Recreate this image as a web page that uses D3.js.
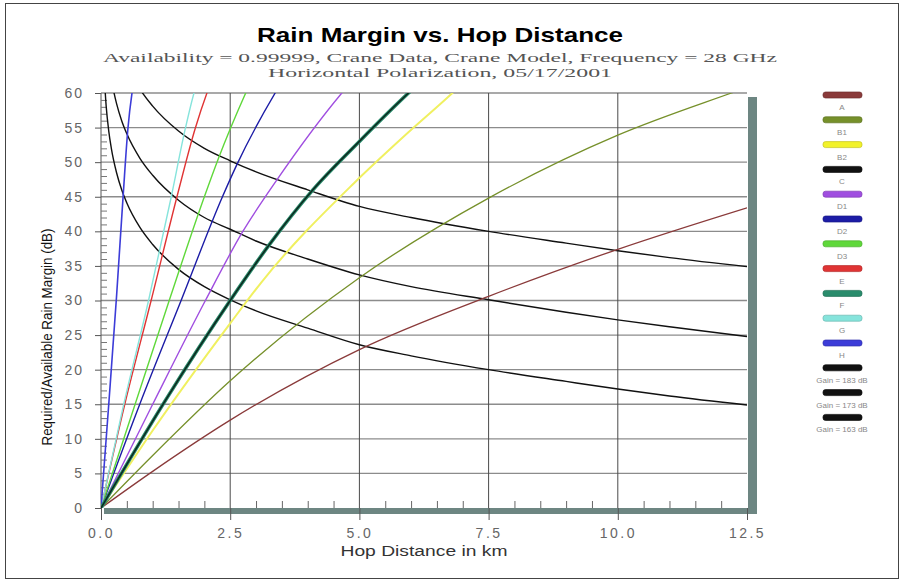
<!DOCTYPE html>
<html>
<head>
<meta charset="utf-8">
<script src="https://cdn.jsdelivr.net/npm/d3@7"></script>
<style>
  body { margin: 0; background: #fff; }
  text { font-family: 'Liberation Sans', Arial, sans-serif; }
</style>
</head>
<body>
<svg width="904" height="582"></svg>
<script>
// values: [hop distance (km), margin (dB)]
const curveA  = [[0,0],[1,5.3],[2.5,12.7],[5,22.9],[7.5,30.6],[10,37.4],[12.5,43.4]];
const curveB1 = [[0,0],[1,7.6],[2.5,18.4],[5,33.3],[7.5,44.8],[10,53.9],[12.2,60],[12.5,60.8]];
const curveB2 = [[0,0],[1,11.2],[2.5,26.7],[3.1,32.6],[4.9,47],[5.9,54],[6.8,60],[6.9,60.7]];
const curveC  = [[0,0],[1.25,15.6],[2.5,30],[3.25,38],[4.1,46],[5,53],[5.95,60],[6.05,60.7]];
const curveD1 = [[0,0],[1,15],[2.02,30],[2.73,39.8],[3.4,47.4],[4.66,60],[4.75,60.8]];
const curveD2 = [[0,0],[0.75,15],[1.55,30],[2.35,45],[2.62,49.5],[3.37,60],[3.45,61]];
const curveD3 = [[0,0],[0.66,15],[1.32,30],[2.0,45],[2.27,50.5],[2.8,60],[2.86,61]];
const curveE  = [[0,0],[0.46,15],[0.97,30],[1.47,45],[1.82,54.8],[2.05,60],[2.1,61]];
const curveF  = [[0,0],[1.25,15.6],[2.5,30],[3.25,38],[4.1,46],[5,53],[5.95,60],[6.05,60.7]];
const curveG  = [[0,0],[0.44,15],[0.92,30],[1.36,45],[1.63,54.8],[1.8,60],[1.84,61]];
const curveH  = [[0,0],[0.15,15],[0.3,30.5],[0.43,45.3],[0.52,54.8],[0.6,60],[0.62,61]];

const gainX   = [0.05,0.1,0.15,0.2,0.3,0.4,0.5,0.75,1,1.5,2,2.5,3,4,5,6,7.5,9,10,11,12.5];
const gain183 = [84.1,78.1,74.5,72.0,68.5,66.0,64.1,60.6,58.1,54.5,52.0,50.2,48.6,46.0,43.6,42.0,40.0,38.3,37.2,36.2,34.9];
const gain173 = [74.1,68.1,64.5,62.0,58.5,56.0,54.1,50.6,48.1,44.5,42.0,40.3,38.6,36.0,33.7,32.0,30.1,28.3,27.2,26.2,24.8];
const gain163 = [64.1,58.1,54.5,52.0,48.5,46.0,44.1,40.6,38.1,34.5,32.0,30.1,28.5,26.0,23.6,22.0,20.0,18.3,17.2,16.2,14.9];

const xTicks = [0, 2.5, 5, 7.5, 10, 12.5];
const xMinorTicks = [0.5,1,1.5,2,3,3.5,4,4.5,5.5,6,6.5,7,8,8.5,9,9.5,10.5,11,11.5,12];
const yTicks = [0, 5, 10, 15, 20, 25, 30, 35, 40, 45, 50, 55, 60];

const legendLabels = ['A','B1','B2','C','D1','D2','D3','E','F','G','H',
  'Gain = 183 dB','Gain = 173 dB','Gain = 163 dB'];
const legendColors = ['#8a3a3a','#76902a','#f2f22a','#111111','#a04ee0','#1c1ca6','#5fd83a',
  '#e03434','#2a8c6c','#86e4dc','#3c3cd8','#111111','#111111','#111111'];

const svg = d3.select('svg');

const plot = {left: 101, right: 747, top: 93, bottom: 508};

const xScale = d3.scaleLinear().domain([0, 12.5]).range([plot.left, plot.right]);
const yScale = d3.scaleLinear().domain([0, 60]).range([plot.bottom, plot.top]);

// outer frame
svg.append('rect')
  .attr('x', 5.5).attr('y', 3.5)
  .attr('width', 893).attr('height', 575)
  .attr('fill', 'none').attr('stroke', '#444');

// titles
svg.append('text')
  .attr('x', 440).attr('y', 42)
  .attr('text-anchor', 'middle')
  .attr('font-size', 21).attr('font-weight', 'bold')
  .attr('textLength', 366).attr('lengthAdjust', 'spacingAndGlyphs')
  .text('Rain Margin vs. Hop Distance');

const serif = "'Liberation Serif', 'Times New Roman', serif";

svg.append('text')
  .attr('x', 440).attr('y', 62)
  .attr('text-anchor', 'middle')
  .style('font-family', serif)
  .attr('font-size', 13.5).attr('fill', '#555')
  .attr('textLength', 674).attr('lengthAdjust', 'spacingAndGlyphs')
  .text('Availability = 0.99999,  Crane Data, Crane Model,  Frequency = 28 GHz');

svg.append('text')
  .attr('x', 440).attr('y', 77)
  .attr('text-anchor', 'middle')
  .style('font-family', serif)
  .attr('font-size', 13.5).attr('fill', '#555')
  .attr('textLength', 344).attr('lengthAdjust', 'spacingAndGlyphs')
  .text('Horizontal Polarization, 05/17/2001');

// grid
svg.append('g').selectAll('line').data(yTicks.filter(d => d > 0))
  .enter().append('line')
    .attr('x1', plot.left).attr('x2', plot.right)
    .attr('y1', d => yScale(d)).attr('y2', d => yScale(d))
    .attr('stroke', '#8c8c8c').attr('stroke-width', 1.3);

svg.append('g').selectAll('line').data(xTicks.filter(d => d > 0 && d < 12.5))
  .enter().append('line')
    .attr('x1', d => xScale(d)).attr('x2', d => xScale(d))
    .attr('y1', plot.top).attr('y2', plot.bottom)
    .attr('stroke', '#4a4a4a').attr('stroke-width', 1);

// 3d shadow on right and bottom
svg.append('rect')
  .attr('x', plot.right + 1).attr('y', 97)
  .attr('width', 9).attr('height', plot.bottom + 6 - 97)
  .attr('fill', '#6d8682');
svg.append('rect')
  .attr('x', 104).attr('y', plot.bottom)
  .attr('width', plot.right + 10 - 104).attr('height', 6)
  .attr('fill', '#6d8682');

// left axis line
svg.append('line')
  .attr('x1', plot.left).attr('x2', plot.left)
  .attr('y1', plot.top).attr('y2', plot.bottom)
  .attr('stroke', '#555');

// axes
const yAxisG = svg.append('g')
  .attr('transform', `translate(${plot.left},0)`)
  .call(d3.axisLeft(yScale).tickValues(yTicks).tickSize(6).tickPadding(11));
yAxisG.select('.domain').remove();
yAxisG.selectAll('line').attr('stroke', '#555');
yAxisG.selectAll('text')
  .attr('font-size', 14).attr('fill', '#666')
  .style('letter-spacing', '2px')
  .style('font-family', "'Liberation Sans', Arial, sans-serif");

const yMinorG = svg.append('g')
  .attr('transform', `translate(${plot.left},0)`)
  .call(d3.axisRight(yScale).tickValues(d3.range(1, 60).filter(d => d % 5 !== 0))
    .tickSize(6).tickFormat(''));
yMinorG.select('.domain').remove();
yMinorG.selectAll('line').attr('stroke', '#777');

const xAxisG = svg.append('g')
  .attr('transform', `translate(0,${plot.bottom})`)
  .call(d3.axisBottom(xScale).tickValues(xTicks).tickSize(12).tickPadding(8)
    .tickFormat(d3.format('.1f')));
xAxisG.select('.domain').remove();
xAxisG.selectAll('line').attr('stroke', '#555');
xAxisG.selectAll('text')
  .attr('font-size', 14).attr('fill', '#666')
  .style('letter-spacing', '2.5px')
  .style('font-family', "'Liberation Sans', Arial, sans-serif");

const xMinorG = svg.append('g')
  .attr('transform', `translate(0,${plot.bottom})`)
  .call(d3.axisTop(xScale).tickValues(xMinorTicks).tickSize(7).tickFormat(''));
xMinorG.select('.domain').remove();
xMinorG.selectAll('line').attr('stroke', '#666');

// axis labels
svg.append('text')
  .attr('x', 424).attr('y', 556)
  .attr('text-anchor', 'middle')
  .attr('font-size', 14).attr('fill', '#333')
  .attr('textLength', 167).attr('lengthAdjust', 'spacingAndGlyphs')
  .text('Hop Distance in km');

svg.append('text')
  .attr('transform', 'translate(52,337) rotate(-90)')
  .attr('text-anchor', 'middle')
  .attr('font-size', 14).attr('fill', '#111')
  .attr('textLength', 217).attr('lengthAdjust', 'spacingAndGlyphs')
  .text('Required/Available Rain Margin (dB)');

// curves
svg.append('clipPath').attr('id', 'plot-clip')
  .append('rect')
    .attr('x', plot.left).attr('y', plot.top)
    .attr('width', plot.right - plot.left).attr('height', plot.bottom - plot.top);

const line = d3.line()
  .x(d => xScale(d[0]))
  .y(d => yScale(d[1]))
  .curve(d3.curveMonotoneX);

const series = [
  {data: gainX.map((x, i) => [x, gain183[i]]), color: '#111', width: 1.4},
  {data: gainX.map((x, i) => [x, gain173[i]]), color: '#111', width: 1.4},
  {data: gainX.map((x, i) => [x, gain163[i]]), color: '#111', width: 1.4},
  {data: curveA,  color: legendColors[0], width: 1.3},
  {data: curveB1, color: legendColors[1], width: 1.3},
  {data: curveB2, color: '#f0f060', width: 2},
  {data: curveD1, color: legendColors[4], width: 1.4},
  {data: curveD2, color: legendColors[5], width: 1.4},
  {data: curveD3, color: legendColors[6], width: 1.4},
  {data: curveE,  color: legendColors[7], width: 1.4},
  {data: curveG,  color: legendColors[9], width: 1.4},
  {data: curveH,  color: legendColors[10], width: 1.6},
  {data: curveF,  color: legendColors[8], width: 3.6},
  {data: curveC,  color: '#0d2a20', width: 1.6}
];

svg.append('g')
  .attr('clip-path', 'url(#plot-clip)')
  .selectAll('path').data(series)
  .enter().append('path')
    .attr('d', d => line(d.data))
    .attr('fill', 'none')
    .attr('stroke', d => d.color)
    .attr('stroke-width', d => d.width)
    .attr('stroke-linejoin', 'round');

// legend
const legendY = i => 95 + i * 24.8;
const legendG = svg.append('g');
legendG.selectAll('rect').data(legendLabels)
  .enter().append('rect')
    .attr('x', 823).attr('y', (d, i) => legendY(i) - 3)
    .attr('width', 39).attr('height', 6).attr('rx', 2.5)
    .attr('fill', (d, i) => legendColors[i])
    .attr('stroke', (d, i) => d3.color(legendColors[i]).darker(0.6))
    .attr('stroke-width', 0.7);
legendG.selectAll('text').data(legendLabels)
  .enter().append('text')
    .attr('x', 842).attr('y', (d, i) => legendY(i) + 15)
    .attr('text-anchor', 'middle')
    .attr('font-size', 8).attr('fill', '#888')
    .text(d => d);
</script>
</body>
</html>
